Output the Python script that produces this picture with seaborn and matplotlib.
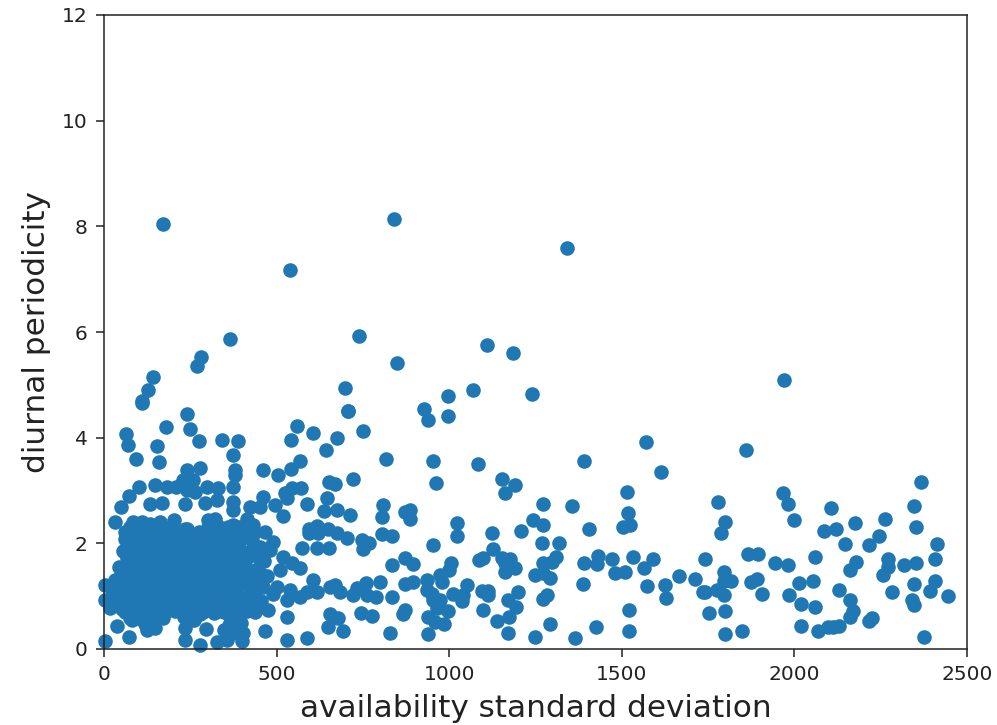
import matplotlib
matplotlib.use("Agg")
import matplotlib.pyplot as plt
import seaborn as sns
import pandas as pd

x_label = "availability standard deviation"
y_label = "diurnal periodicity"

right_x = [1861,1968,1981,2000,1778,1800,1786,2106,2087,2120,2175,2263,2245,2217,2147,2346,2366,2352,2412,2407,
 1866,1894,1740,1944,1981,2060,2178,2161,2272,2272,2258,2317,2352,2346,2407,2393,2444,2282,2340,2346,
 1796,1815,1796,1775,1740,1796,1873,1891,1907,2013,2055,1985,2018,2060,2129,2161,2171,2161,2224,2216,
 1754,1800,1800,1847,2018,2067,2098,2113,2129,2375]
right_y = [3.77,2.96,2.74,2.44,2.78,2.41,2.19,2.66,2.23,2.28,2.38,2.47,2.14,1.96,1.99,2.71,3.17,2.31,1.99,1.71,
 1.80,1.80,1.71,1.62,1.59,1.75,1.65,1.50,1.71,1.56,1.41,1.59,1.62,1.23,1.29,1.10,1.01,1.08,0.93,0.83,
 1.45,1.29,1.29,1.12,1.08,1.02,1.26,1.32,1.05,1.24,1.29,1.02,0.86,0.80,1.12,0.93,0.72,0.61,0.58,0.53,
 0.69,0.72,0.28,0.35,0.44,0.35,0.41,0.42,0.43,0.23]

mid_x = [1569,1615,1391,1514,1519,1524,1504,954,962,1082,1152,1190,1162,1273,1357,1244,1273,1406,1022,1022,
 1124,1207,1268,1319,954,1128,1004,998,973,1087,1099,1152,1176,1162,1191,1162,1309,1297,1271,1249,
 1271,1292,1391,1430,1427,1471,1480,1509,1531,1564,1591,1667,1713,1736,1389,1574,1625,1628,1051,1036,
 1094,1113,1113,1200,1171,1193,1282,1271,1097,1174,1139,1171,1292,1249,1364,1425,1522,1522,935,978,
 935,949,1012,973,954,997,964,940,959,985,940,1041,996,940,927]
mid_y = [3.92,3.35,3.56,2.98,2.57,2.34,2.31,3.56,3.14,3.50,3.21,3.10,2.95,2.74,2.71,2.44,2.34,2.28,2.39,2.14,
 2.19,2.23,2.01,2.01,1.96,1.90,1.63,1.50,1.40,1.68,1.72,1.72,1.70,1.62,1.53,1.46,1.75,1.65,1.62,1.41,
 1.43,1.34,1.62,1.76,1.61,1.71,1.44,1.46,1.75,1.53,1.71,1.38,1.32,1.08,1.23,1.19,1.22,0.96,1.21,0.90,
 1.09,1.10,1.02,1.08,0.93,0.79,1.02,0.95,0.74,0.61,0.53,0.31,0.47,0.23,0.20,0.41,0.74,0.35,1.30,1.27,
 1.12,1.05,1.05,0.93,0.93,0.71,0.77,0.61,0.52,0.47,0.28,1.02,4.41,4.33,4.55]

left_x = [111,239,180,249,276,64,69,153,92,160,341,387,375,380,380,375,560,541,606,676,
 643,708,749,817,461,504,542,568,720,651,669,647,674,637,713,809,804,886,872,886,
 805,833,573,616,653,616,595,595,621,650,674,703,746,769,749,833,872,894,872,894,
 799,759,732,669,655,684,616,722,761,788,833,872,867,745,777,655,679,650,693,828,
 466,531,587,531,568,606,587,461,524,544,571,529,587,495,452,519,423,375,375,321,
 302,413,375,433,394,466,491,317,326,293,331,298,278,239,230,259,239,264,148,182,
 210,101,73,49,31,133,167,235,85,109,133,162,203,241]
left_y = [4.66,4.45,4.20,4.16,3.94,4.06,3.86,3.84,3.59,3.53,3.96,3.93,3.68,3.39,3.29,3.06,4.23,3.96,4.08,3.99,
 3.77,4.50,4.13,3.59,3.39,3.29,3.41,3.56,3.22,3.17,3.13,2.86,2.63,2.61,2.53,2.72,2.50,2.64,2.59,2.47,
 2.18,2.14,1.92,1.92,1.92,2.33,2.28,2.19,2.19,2.28,2.20,2.11,2.06,2.01,1.89,1.59,1.73,1.60,1.23,1.26,
 1.27,1.24,1.15,1.21,1.18,1.08,1.08,1.02,1.02,0.99,0.99,0.74,0.67,0.69,0.62,0.67,0.58,0.42,0.35,0.31,
 0.35,0.17,0.20,0.61,0.99,1.31,1.08,2.88,2.95,3.04,3.04,2.85,2.74,2.73,2.68,2.52,2.69,2.79,2.63,2.47,
 2.44,2.47,2.35,2.35,2.25,2.22,2.03,2.22,2.82,2.76,3.04,3.07,3.42,3.39,3.20,3.20,3.01,2.98,3.10,3.07,
 3.07,3.07,2.90,2.68,2.41,2.74,2.76,2.74,2.41,2.41,2.36,2.41,2.44,2.28]

bottom_x = [3,73,37,124,148,235,278,326,355,399,295,235,384,360,389,476,413,355,278,249,
 80,143,17,3,3]
bottom_y = [0.16,0.22,0.44,0.36,0.39,0.17,0.08,0.14,0.17,0.16,0.38,0.39,0.33,0.42,0.58,0.74,0.71,0.68,0.67,0.58,
 0.55,0.52,0.77,0.93,1.21]

dense_x = [60,72,85,98,112,126,140,155,171,186,202,218,233,250,266,283,300,316,333,349,365,382,398,416,433,451,
 55,68,81,95,108,123,137,152,168,183,198,214,229,245,261,278,295,311,328,345,361,378,394,411,428,446,463,
 44,58,70,84,99,114,129,144,159,175,191,206,222,238,254,270,287,303,320,336,352,369,385,402,419,436,455,472,
 33,47,62,76,91,105,120,135,150,165,180,196,211,227,243,259,275,292,308,325,341,358,374,391,408,425,442,460,
 26,40,55,70,86,101,116,131,146,162,177,193,209,225,240,256,272,289,305,322,339,355,372,388,405,422,440,
 22,37,52,67,83,98,113,128,144,159,175,190,206,222,238,253,270,286,302,319,335,352,368,385,402,419,437,455,
 30,45,60,76,92,107,122,138,153,169,185,201,216,232,248,264,281,297,314,331,347,364,381,398,
 48,64,90,118,145,172,200,228,262,290,318,348,375,403,430]
dense_y = [2.22,2.05,2.18,1.98,2.12,2.02,2.20,1.96,2.09,2.16,1.97,2.06,2.01,2.14,1.94,2.05,1.96,2.16,2.10,1.98,2.12,1.96,2.08,2.16,2.00,1.94,
 1.86,1.72,1.90,1.80,1.70,1.86,1.76,1.92,1.74,1.84,1.68,1.88,1.78,1.70,1.84,1.74,1.86,1.68,1.80,1.72,1.88,1.76,1.84,1.70,1.82,1.74,1.66,
 1.56,1.44,1.60,1.50,1.62,1.42,1.56,1.46,1.60,1.50,1.40,1.58,1.46,1.54,1.62,1.44,1.52,1.42,1.60,1.48,1.56,1.40,1.54,1.62,1.46,1.50,1.42,1.38,
 1.30,1.18,1.34,1.22,1.32,1.14,1.26,1.36,1.20,1.30,1.12,1.28,1.18,1.36,1.24,1.14,1.32,1.20,1.28,1.12,1.34,1.22,1.16,1.30,1.24,1.14,1.28,1.18,
 1.06,0.96,1.08,0.92,1.04,0.90,1.02,0.94,1.08,0.88,1.00,0.92,1.06,0.96,0.86,1.04,0.94,1.08,0.90,1.00,0.86,1.04,0.94,1.02,0.88,1.06,0.96,
 1.16,0.84,0.76,0.88,0.72,0.82,0.70,0.80,0.74,0.84,0.68,0.78,0.72,0.82,0.66,0.76,0.84,0.70,0.78,0.68,0.80,0.72,0.86,0.66,0.76,0.82,0.70,0.90,
 1.00,0.85,0.70,0.58,0.66,0.56,0.62,0.54,0.66,0.62,0.74,0.76,0.78,0.60,0.54,0.60,0.70,0.76,0.78,0.72,0.70,0.50,0.44,0.50,
 1.40,1.10,0.60,0.48,0.46,0.58,0.84,0.70,0.54,0.82,0.76,0.36,0.30,0.30,0.86]

fill_x = [75,90,105,120,135,150,165,180,195,62,78,93,108,123,138,153,168,184,
 300,315,330,345,360,375,390,405,420,435,290,310,330,350,370,390,410,430,450,470,
 481,519,544,568,510,500,539,529,491,
 215,235,255,275,295,225,245,265,285,215,235,255,275,295,315,225,250,275,300,325,
 200,225,250,275,300,325,350,160,185,210,120,145,170]
fill_y = [2.30,2.32,2.28,2.30,2.26,2.30,2.32,2.28,2.30,2.08,1.95,2.10,1.90,2.12,2.00,2.08,1.92,2.00,
 2.30,2.28,2.32,2.26,2.30,2.24,2.30,2.22,2.28,2.20,1.72,1.86,1.90,1.84,1.76,1.92,1.82,1.88,1.80,1.90,
 1.87,1.75,1.62,1.53,1.50,1.18,1.12,0.93,1.05,
 2.22,2.28,2.05,2.22,2.12,1.95,1.85,2.02,1.92,1.65,1.62,1.70,1.66,1.62,1.58,1.35,1.38,1.36,1.40,1.42,
 1.15,1.12,1.18,1.10,1.16,1.12,1.14,0.95,0.98,0.92,1.52,1.66,1.78]

outlier_x = [170,539,840,1341,365,281,269,142,127,110,739,698,707,1110,1185,850,1240,1070,1970,996]
outlier_y = [8.05,7.17,8.14,7.59,5.87,5.53,5.36,5.15,4.90,4.69,5.92,4.94,4.50,5.75,5.60,5.41,4.83,4.90,5.10,4.78]

availability = right_x + mid_x + left_x + bottom_x + dense_x + fill_x + outlier_x
periodicity = right_y + mid_y + left_y + bottom_y + dense_y + fill_y + outlier_y
df = pd.DataFrame({"availability": availability, "periodicity": periodicity})

sns.set_style("ticks")
plt.rcParams["font.family"] = ["DejaVu Sans"]
fig = plt.figure(figsize=(9.97, 7.25), dpi=100)
ax = fig.add_axes([104/997, 1-649/725, (967-104)/997, (649-15)/725])
sns.scatterplot(data=df, x="availability", y="periodicity", color="#1f77b4",
                s=110, linewidth=0, alpha=1, ax=ax, clip_on=False)
ax.set_xlim(0, 2500)
ax.set_ylim(0, 12)
ax.set_xticks([0, 500, 1000, 1500, 2000, 2500])
ax.set_yticks([0, 2, 4, 6, 8, 10, 12])
ax.set_xlabel(x_label, fontsize=22.4, labelpad=7, color="#222222")
ax.set_ylabel(y_label, fontsize=22.4, labelpad=8, color="#222222")
ax.tick_params(axis="both", labelsize=14.5, length=5.8, width=1.1, pad=6, direction="out", colors="#222222")
for side in ax.spines.values():
    side.set_visible(True)
    side.set_linewidth(1.1)
    side.set_color("#222222")
fig.savefig("out.png", dpi=100)
